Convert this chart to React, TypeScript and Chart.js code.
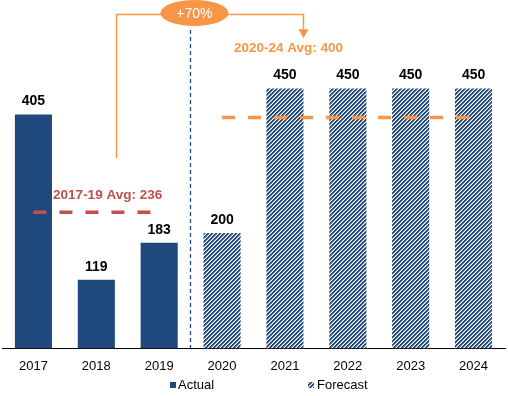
import React, { useEffect, useRef } from "react";
import { Chart, registerables } from "chart.js";

Chart.register(...registerables);

const years = ["2017", "2018", "2019", "2020", "2021", "2022", "2023", "2024"];
const actual = [405, 119, 183, null, null, null, null, null];
const forecast = [null, null, null, 200, 450, 450, 450, 450];
const avgActual = [236, 236, 236, null, null, null, null, null];
const avgForecast = [null, null, null, 400, 400, 400, 400, 400];
const avgActualLabel = "2017-19 Avg: 236";
const avgForecastLabel = "2020-24 Avg: 400";
const growthLabel = "+70%";
const legendLabels = ["Actual", "Forecast"];

const BLUE = "#1F497D";
const RED = "#C0504D";
const ORANGE = "#F79646";
const FONT = "'Liberation Sans', Arial, sans-serif";

function makeHatch(): CanvasPattern | string {
  const c = document.createElement("canvas");
  c.width = 4;
  c.height = 4;
  const ctx = c.getContext("2d");
  if (!ctx) return BLUE;
  const img = ctx.createImageData(4, 4);
  const cols = [
    [31, 73, 125],
    [31, 73, 125],
    [150, 170, 196],
    [255, 255, 255],
  ];
  for (let y = 0; y < 4; y++) {
    for (let x = 0; x < 4; x++) {
      const i = (y * 4 + x) * 4;
      const c2 = cols[(x + y) % 4];
      img.data[i] = c2[0];
      img.data[i + 1] = c2[1];
      img.data[i + 2] = c2[2];
      img.data[i + 3] = 255;
    }
  }
  ctx.putImageData(img, 0, 0);
  const p = ctx.createPattern(c, "repeat");
  return p || BLUE;
}

export default function App() {
  const ref = useRef<HTMLCanvasElement | null>(null);

  useEffect(() => {
    if (!ref.current) return;
    const hatch = makeHatch();

    const labelPlugin = {
      id: "valueLabels",
      afterDatasetsDraw(chart: any) {
        const ctx = chart.ctx;
        ctx.save();
        ctx.font = `bold 14px ${FONT}`;
        ctx.fillStyle = "#000";
        ctx.textAlign = "center";
        ctx.textBaseline = "bottom";
        chart.data.datasets.forEach((ds: any, di: number) => {
          if (ds.type !== "bar") return;
          const meta = chart.getDatasetMeta(di);
          meta.data.forEach((el: any, i: number) => {
            const v = ds.data[i];
            if (v == null) return;
            ctx.fillText(String(v), el.x, el.y - 6);
          });
        });
        ctx.restore();
      },
    };

    const annoPlugin = {
      id: "annotations",
      afterDraw(chart: any) {
        const ctx = chart.ctx;
        const xs = chart.scales.x;
        const ys = chart.scales.y;
        const px = (v: number) => xs.getPixelForValue(v);
        const py = (v: number) => ys.getPixelForValue(v);
        const area = chart.chartArea;
        ctx.save();

        // divider between actual and forecast
        ctx.strokeStyle = BLUE;
        ctx.lineWidth = 1.3;
        ctx.setLineDash([4, 3]);
        ctx.beginPath();
        const dx = Math.round(px(2.49)) + 0.5;
        ctx.moveTo(dx, 30);
        ctx.lineTo(dx, area.bottom);
        ctx.stroke();
        ctx.setLineDash([]);

        // growth bracket
        const lx = Math.round(px(1.32)) + 0.5;
        const rx = Math.round(px(4.29)) + 0.5;
        const topY = 14.5;
        const tipY = py(537);
        ctx.strokeStyle = ORANGE;
        ctx.lineWidth = 1.5;
        ctx.beginPath();
        ctx.moveTo(lx, py(330));
        ctx.lineTo(lx, topY);
        ctx.lineTo(rx, topY);
        ctx.lineTo(rx, tipY - 8);
        ctx.stroke();
        ctx.fillStyle = ORANGE;
        ctx.beginPath();
        ctx.moveTo(rx - 5, tipY - 9);
        ctx.lineTo(rx + 5, tipY - 9);
        ctx.lineTo(rx, tipY);
        ctx.closePath();
        ctx.fill();

        // ellipse label
        const ex = px(2.56);
        ctx.beginPath();
        ctx.ellipse(ex, 13, 34, 13, 0, 0, Math.PI * 2);
        ctx.fill();
        ctx.fillStyle = "#fff";
        ctx.font = `14px ${FONT}`;
        ctx.textAlign = "center";
        ctx.textBaseline = "middle";
        ctx.fillText(growthLabel, ex, 14);

        // average labels
        ctx.font = `bold 13.5px ${FONT}`;
        ctx.fillStyle = RED;
        ctx.textAlign = "center";
        ctx.fillText(avgActualLabel, px(1.18), py(266));
        ctx.fillStyle = ORANGE;
        ctx.textAlign = "left";
        ctx.fillText(avgForecastLabel, px(3) + 12, py(520));

        // legend
        const ly = 385;
        ctx.font = `13px ${FONT}`;
        ctx.textBaseline = "middle";
        ctx.fillStyle = BLUE;
        ctx.fillRect(170, ly - 3, 6, 6);
        ctx.fillStyle = "#000";
        ctx.fillText(legendLabels[0], 178, ly);
        ctx.fillStyle = hatch as any;
        ctx.fillRect(308, ly - 3, 6, 6);
        ctx.fillStyle = "#000";
        ctx.fillText(legendLabels[1], 317, ly);

        ctx.restore();
      },
    };

    const chart = new Chart(ref.current, {
      type: "bar",
      data: {
        labels: years,
        datasets: [
          {
            type: "line",
            label: "avgActual",
            data: avgActual,
            borderColor: RED,
            borderWidth: 3.5,
            borderDash: [13, 13],
            pointRadius: 0,
            fill: false,
            order: 0,
          } as any,
          {
            type: "line",
            label: "avgForecast",
            data: avgForecast,
            borderColor: ORANGE,
            borderWidth: 3.5,
            borderDash: [13, 13],
            pointRadius: 0,
            fill: false,
            order: 0,
          } as any,
          {
            type: "bar",
            label: legendLabels[0],
            data: actual,
            backgroundColor: BLUE,
            grouped: false,
            barPercentage: 0.59,
            categoryPercentage: 1,
            order: 1,
          } as any,
          {
            type: "bar",
            label: legendLabels[1],
            data: forecast,
            backgroundColor: hatch,
            grouped: false,
            barPercentage: 0.59,
            categoryPercentage: 1,
            order: 1,
          } as any,
        ],
      },
      options: {
        responsive: false,
        animation: false,
        events: [],
        layout: { padding: { top: 2, left: 2, right: 3, bottom: 12 } },
        plugins: {
          legend: { display: false },
          tooltip: { enabled: false },
        },
        scales: {
          x: {
            grid: { display: false, drawTicks: false },
            border: { display: true, color: "#000", width: 1 },
            ticks: { color: "#000", font: { family: FONT, size: 13 }, padding: 10 },
          },
          y: {
            display: false,
            min: 0,
            max: 600,
          },
        },
      },
      plugins: [labelPlugin, annoPlugin],
    });
    return () => chart.destroy();
  }, []);

  return (
    <div style={{ position: "absolute", left: 0, top: 0, width: 508, height: 396, background: "#fff" }}>
      <canvas ref={ref} width={508} height={396} style={{ display: "block" }} />
    </div>
  );
}
